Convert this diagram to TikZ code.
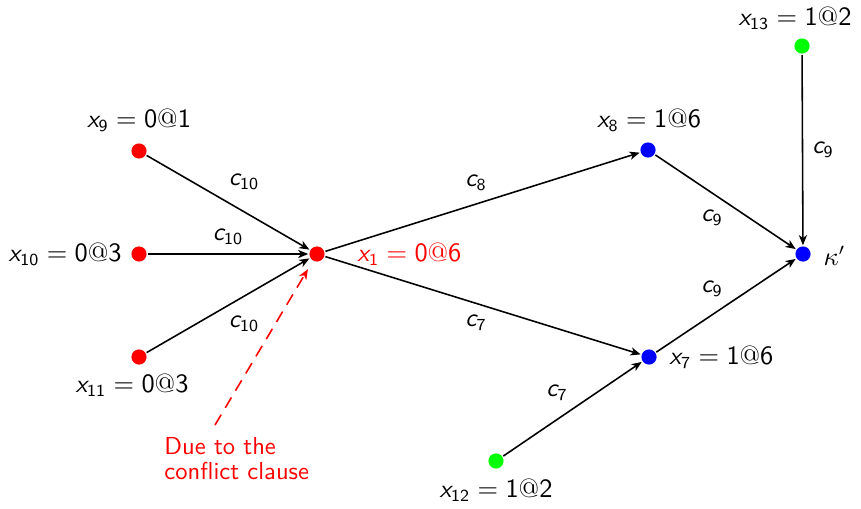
\documentclass[tikz,border=0pt]{standalone}
\usetikzlibrary{arrows.meta}
\newcommand\vx[2]{$\textsl{x}_{\mathsf{#1}} = \mathsf{#2}$}
\newcommand\vc[1]{$\textsl{c}_{\mathsf{#1}}$}
\begin{document}
\begin{tikzpicture}[x=0.415pt,y=-0.415pt,font=\sffamily\fontsize{10.5}{12.6}\selectfont,
  dot/.style={circle,fill=#1,inner sep=0pt,minimum size=6.3pt},
  lbl/.style={inner sep=0pt},
  edge/.style={line width=0.65pt,-{Stealth[length=4.2pt,width=3.4pt,inset=1.2pt]},shorten >=0.3pt,shorten <=0.3pt}]
\useasboundingbox (0,0) rectangle (861,508);
% nodes
\node[dot=red] (x9) at (139,151) {};
\node[dot=red] (x10) at (139,254) {};
\node[dot=red] (x11) at (139,357) {};
\node[dot=red] (x1) at (317,254) {};
\node[dot=blue] (x8) at (648,150) {};
\node[dot=blue] (x7) at (649,357) {};
\node[dot=blue] (k) at (803,254) {};
\node[dot=green] (x13) at (802,46) {};
\node[dot=green] (x12) at (496,461) {};
% node labels
\node[lbl] (l9) at (139,120) {\vx{9}{0@1}};
\node[lbl,anchor=east] (l10) at (122,254) {\vx{10}{0@3}};
\node[lbl] (l11) at (132,385) {\vx{11}{0@3}};
\node[lbl,anchor=west,text=red] (l1) at (357,254) {\vx{1}{0@6}};
\node[lbl] (l8) at (649,120) {\vx{8}{1@6}};
\node[lbl,anchor=west] (l7) at (669,357) {\vx{7}{1@6}};
\node[lbl,anchor=west] (lk) at (823,256) {$\kappa'$};
\node[lbl] (l13) at (795,18) {\vx{13}{1@2}};
\node[lbl] (l12) at (496,490) {\vx{12}{1@2}};
% edges
\draw[edge] (x9) -- (x1);
\draw[edge] (x10) -- (x1);
\draw[edge] (x11) -- (x1);
\draw[edge] (x1) -- (x8);
\draw[edge] (x1) -- (x7);
\draw[edge] (x8) -- (k);
\draw[edge] (x7) -- (k);
\draw[edge] (x13) -- (k);
\draw[edge] (x12) -- (x7);
% edge labels
\node[lbl] (c1) at (244,182) {\vc{10}};
\node[lbl] (c2) at (228,237) {\vc{10}};
\node[lbl] (c3) at (244,324) {\vc{10}};
\node[lbl] (c4) at (476,183) {\vc{8}};
\node[lbl] (c5) at (476,323) {\vc{7}};
\node[lbl] (c6) at (712,218) {\vc{9}};
\node[lbl] (c7n) at (712,289) {\vc{9}};
\node[lbl] (c8) at (823,150) {\vc{9}};
\node[lbl] (c9) at (557,393) {\vc{7}};
% conflict clause
\coordinate (ds) at (215,425);
\draw[red,line width=0.65pt,dash pattern=on 5pt off 3.3pt,-{Stealth[length=4.2pt,width=3.4pt,inset=1.2pt]},shorten >=4pt] (ds) -- (x1);
\node[lbl,anchor=west,align=left,text=red,font=\sffamily\fontsize{10.2}{10.4}\selectfont] (note) at (164,459) {Due to the\\conflict clause};
\end{tikzpicture}
\end{document}
